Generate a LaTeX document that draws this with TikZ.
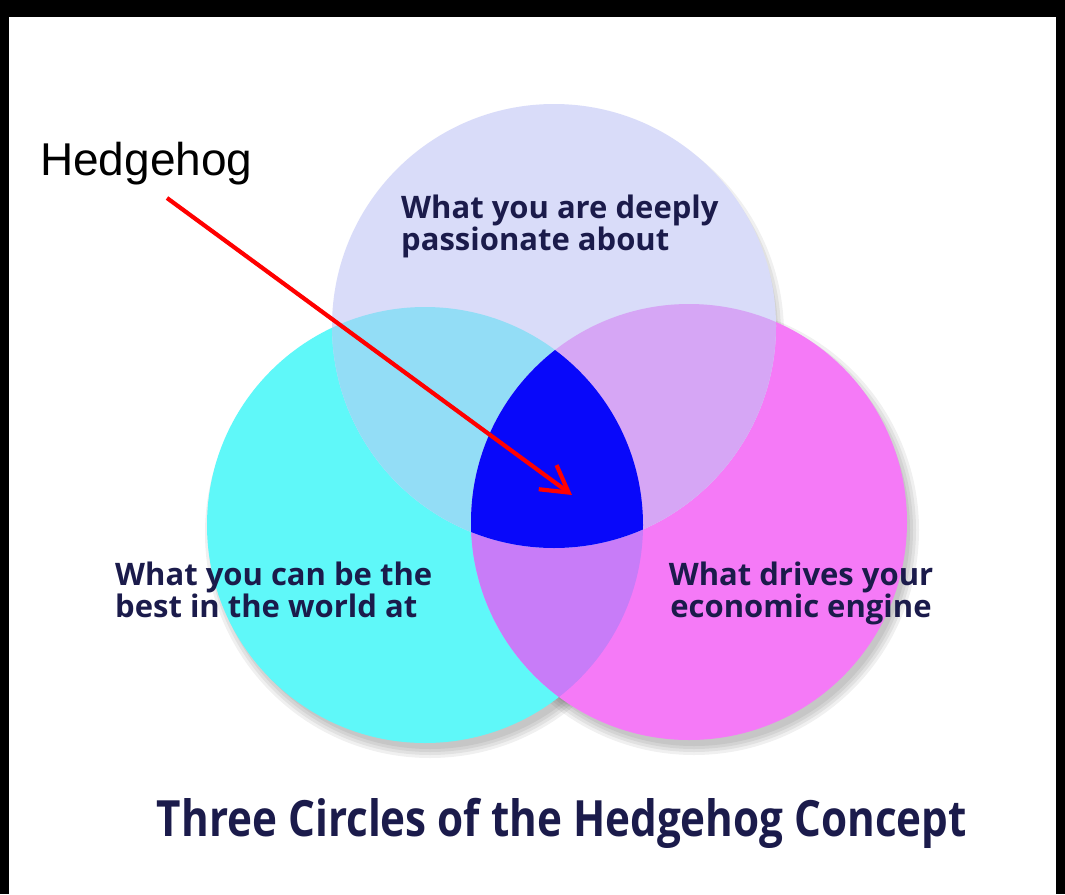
\documentclass[tikz,border=0pt]{standalone}
\usepackage{fontspec}
\setmainfont{Liberation Sans}
\newfontfamily\circfont{Open Sans}
\usetikzlibrary{arrows.meta}

\definecolor{lavc}{HTML}{D9DCF9}
\definecolor{cyanc}{HTML}{5FF8F9}
\definecolor{magc}{HTML}{F57AF7}
\definecolor{ltbluec}{HTML}{93DDF6}
\definecolor{ltpurpc}{HTML}{D6A6F5}
\definecolor{purpc}{HTML}{C87CF8}
\definecolor{corec}{HTML}{0808FA}
\definecolor{navyc}{HTML}{1B1B4B}

\tikzset{
  circlbl/.style={font=\circfont\bfseries\fontsize{31}{30}\selectfont, text=navyc, inner sep=0pt},
}

\begin{document}
\begin{tikzpicture}[x=1pt,y=-1pt]
\fill[black] (0,0) rectangle (1065,894);
\fill[white] (9,17) rectangle (1056,894);
\useasboundingbox (0,0) rectangle (1065,894);

\coordinate (topc) at (554,326);
\coordinate (leftc) at (425,525);
\coordinate (rightc) at (689,522);

% soft shadows
\foreach \c in {topc,leftc,rightc}{
  \foreach \r in {225,222,219,216}
    \fill[black,opacity=0.06] ([shift={(5,8)}]\c) circle (\r pt);
}

\fill[cyanc] (leftc) circle (218pt);
\fill[magc] (rightc) circle (218pt);
\fill[lavc] (topc) circle (222pt);
\begin{scope}
  \clip (leftc) circle (218pt);
  \fill[purpc] (rightc) circle (218pt);
\end{scope}
\begin{scope}
  \clip (topc) circle (222pt);
  \fill[ltbluec] (leftc) circle (218pt);
  \fill[ltpurpc] (rightc) circle (218pt);
  \clip (leftc) circle (218pt);
  \fill[corec] (rightc) circle (218pt);
\end{scope}

\node[circlbl, align=left, anchor=base west] (passion) at (401,250) {What you are deeply\\passionate about};
\node[circlbl, align=left, anchor=base west] (best) at (115,617) {What you can be the\\best in the world at};
\node[circlbl, align=center, anchor=base] (engine) at (801,617) {What drives your\\economic engine};

\node[font=\circfont\bfseries\fontsize{50}{50}\selectfont, text=navyc, inner sep=0pt, anchor=base] (title) at (562,836)
  {\resizebox{810pt}{\height}{Three Circles of the Hedgehog Concept}};

\node[font=\fontsize{46}{46}\selectfont, inner sep=0pt, anchor=base west] (hedgehog) at (40,175) {Hedgehog};
\coordinate (hhtail) at (167,198);
\coordinate (hhtip) at (572,495);
\draw[red, line width=4.2pt, -{Straight Barb[length=26pt,width=30pt]}] (hhtail) -- (hhtip);
\end{tikzpicture}
\end{document}
